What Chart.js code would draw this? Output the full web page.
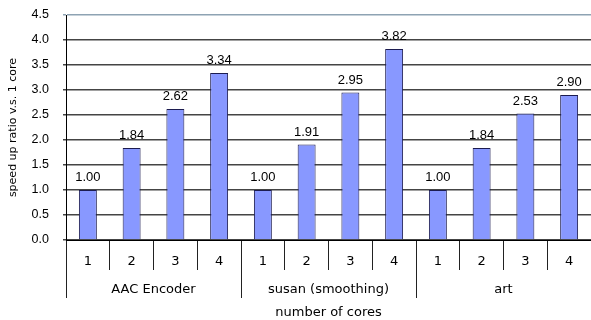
<!DOCTYPE html>
<html><head><meta charset="utf-8">
<script src="https://cdn.jsdelivr.net/npm/chart.js@4"></script>
<style>html,body{margin:0;padding:0;background:#fff}#wrap{width:591px;height:320px}</style>
</head><body><div id="wrap"><canvas id="c" width="591" height="320"></canvas></div>
<script>
const groups = ['AAC Encoder', 'susan (smoothing)', 'art'];
const coreLabels = ['1', '2', '3', '4'];
const aacValues = [1.00, 1.84, 2.62, 3.34];
const susanValues = [1.00, 1.91, 2.95, 3.82];
const artValues = [1.00, 1.84, 2.53, 2.90];
const yTickValues = [0, 0.5, 1.0, 1.5, 2.0, 2.5, 3.0, 3.5, 4.0, 4.5];
const xTitle = 'number of cores';
const yTitle = 'speed up ratio v.s. 1 core';

const categories = [...coreLabels, ...coreLabels, ...coreLabels];
const values = [...aacValues, ...susanValues, ...artValues];

const valueLabels = {
  id: 'valueLabels',
  afterDatasetsDraw(chart) {
    const ctx = chart.ctx;
    const meta = chart.getDatasetMeta(0);
    ctx.save();
    ctx.font = '13px "Liberation Sans"';
    ctx.fillStyle = '#000';
    ctx.textAlign = 'center';
    ctx.textBaseline = 'bottom';
    meta.data.forEach((bar, i) => {
      ctx.fillText(values[i].toFixed(2), bar.x, bar.y - 6);
    });
    ctx.restore();
  }
};

new Chart(document.getElementById('c'), {
  type: 'bar',
  data: {
    labels: categories,
    datasets: [{
      data: values,
      backgroundColor: '#8898ff',
      borderColor: '#1c1c50',
      borderWidth: 1,
      barPercentage: 0.41,
      categoryPercentage: 1.0
    }]
  },
  options: {
    responsive: false,
    animation: false,
    devicePixelRatio: 1,
    layout: { padding: { top: 15, right: 0, left: 0, bottom: 0 } },
    plugins: { legend: { display: false }, tooltip: { enabled: false } },
    scales: {
      x: {
        type: 'category',
        position: 'bottom',
        grid: { offset: true, drawOnChartArea: false, tickLength: 30, color: '#222', lineWidth: 1 },
        border: { color: '#000', width: 1 },
        ticks: { font: { family: 'DejaVu Sans', size: 13 }, color: '#000', padding: -16, autoSkip: false, maxRotation: 0 },
        afterFit(s) { s.height = 30; }
      },
      x2: {
        type: 'category',
        position: 'bottom',
        labels: groups,
        offset: true,
        grid: { offset: true, drawOnChartArea: false, tickLength: 28, color: '#222', lineWidth: 1 },
        border: { display: false },
        ticks: { font: { family: 'DejaVu Sans', size: 13 }, color: '#000', padding: -16, autoSkip: false, maxRotation: 0 },
        title: { display: true, text: xTitle, font: { family: 'DejaVu Sans', size: 13 }, color: '#000', padding: { top: 0, bottom: 0 } },
        afterFit(s) { s.height = 50; }
      },
      y: {
        min: yTickValues[0],
        max: yTickValues[yTickValues.length - 1],
        afterBuildTicks(s) { s.ticks = yTickValues.map(v => ({ value: v })); },
        ticks: { callback: v => Number(v).toFixed(1), font: { family: 'Liberation Sans', size: 12.5 }, color: '#000', padding: 14 },
        grid: {
          color: c => (c.tick && c.tick.value === yTickValues[yTickValues.length - 1]) ? '#8ea3b3' : '#444',
          lineWidth: 1.5,
          tickLength: 3
        },
        border: { color: '#000', width: 1 },
        title: { display: true, text: yTitle, font: { family: 'DejaVu Sans', size: 11 }, color: '#000', padding: { top: 7, bottom: 0 } },
        afterFit(s) { s.width = 66; s.paddingTop = 0; s.paddingBottom = 0; }
      }
    }
  },
  plugins: [valueLabels]
});
</script>
</body></html>
